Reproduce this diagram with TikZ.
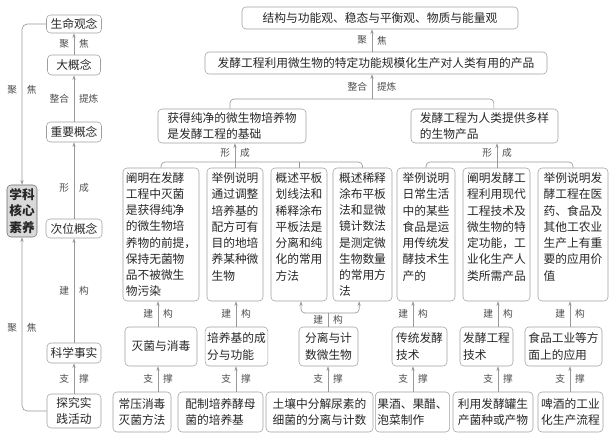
\documentclass[tikz,border=0pt]{standalone}
\usepackage{fontspec}
\setmainfont{Noto Sans CJK SC}
\usetikzlibrary{arrows.meta, calc}
\tikzset{
    font=\fontsize{8.8}{12.2}\selectfont,
    >={Stealth[length=3.5pt, width=2.4pt]},
    % Boxes
    box/.style={draw=gray!75, rounded corners=3pt, inner xsep=1.5pt, inner ysep=2pt,
                align=left, text=black!85},
    core/.style={box, fill=gray!30, draw=gray!85!black, align=center,
                 font=\fontsize{9.5}{12.2}\selectfont\bfseries},
    tall/.style={box, minimum height=99.75pt},
    mid/.style={box, minimum height=29.25pt},
    low/.style={box, minimum height=30pt},
    % Connectors & labels
    flow/.style={->, gray!80, line width=0.5pt},
    link/.style={gray!80, line width=0.5pt},
    lbl/.style={font=\fontsize{7.3}{8}\selectfont, inner xsep=3.5pt, inner ysep=2pt, text=black!70}
}

\begin{document}
\begin{tikzpicture}[x=0.75pt, y=-0.75pt]
\useasboundingbox (0,0) rectangle (610,438);

% left column: levels
\node[box, minimum width=41.25pt, minimum height=13.5pt] (life) at (74,24) {生命观念};
\node[box, minimum width=39.75pt, minimum height=15pt] (big) at (74,65) {大概念};
\node[box, minimum width=41.25pt, minimum height=15pt] (imp) at (74,132) {重要概念};
\node[box, minimum width=42pt, minimum height=14.25pt] (second) at (74,228.5) {次位概念};
\node[box, minimum width=40.5pt, minimum height=15pt] (fact) at (74,353) {科学事实};
\node[box, align=center, minimum width=40.5pt, minimum height=25.5pt] (practice) at (74,411) {探究实\\践活动};
\node[core, minimum width=22.5pt, minimum height=39pt] (core) at (22,211) {学科\\核心\\素养};

% top
\node[box, minimum width=207pt, minimum height=16.5pt] (view) at (380,18) {结构与功能观、稳态与平衡观、物质与能量观};
\node[box, minimum width=256.5pt, minimum height=16.5pt] (ferm) at (376,63) {发酵工程利用微生物的特定功能规模化生产对人类有用的产品};
\node[box, minimum width=111pt, minimum height=25.5pt] (pureA) at (232,126) {获得纯净的微生物培养物\\是发酵工程的基础};
\node[box, minimum width=110.25pt, minimum height=25.5pt] (prodB) at (484.5,126) {发酵工程为人类提供多样\\的生物产品};

% requirements
\node[tall, minimum width=57pt] (m1) at (161,234.5) {阐明在发酵\\工程中灭菌\\是获得纯净\\的微生物培\\养物的前提，\\保持无菌物\\品不被微生\\物污染};
\node[tall, minimum width=42pt] (m2) at (235,234.5) {举例说明\\通过调整\\培养基的\\配方可有\\目的地培\\养某种微\\生物\\~};
\node[tall, minimum width=42pt] (m3) at (299,234.5) {概述平板\\划线法和\\稀释涂布\\平板法是\\分离和纯\\化的常用\\方法\\~};
\node[tall, minimum width=44.25pt] (m4) at (362.5,234.5) {概述稀释\\涂布平板\\法和显微\\镜计数法\\是测定微\\生物数量\\的常用方\\法};
\node[tall, minimum width=43.5pt] (m5) at (426,234.5) {举例说明\\日常生活\\中的某些\\食品是运\\用传统发\\酵技术生\\产的\\~};
\node[tall, minimum width=50.25pt] (m6) at (496.5,234.5) {阐明发酵工\\程利用现代\\工程技术及\\微生物的特\\定功能，工\\业化生产人\\类所需产品\\~};
\node[tall, minimum width=52.5pt] (m7) at (573,234.5) {举例说明发\\酵工程在医\\药、食品及\\其他工农业\\生产上有重\\要的应用价\\值\\~};

% topics
\node[mid, minimum width=54pt] (t1) at (161,346.5) {灭菌与消毒};
\node[mid, minimum width=45.75pt] (t2) at (236.5,346.5) {培养基的成\\分与功能};
\node[mid, minimum width=44.25pt] (t3) at (328.5,346.5) {分离与计\\数微生物};
\node[mid, minimum width=41.25pt] (t4) at (419.5,346.5) {传统发酵\\技术};
\node[mid, minimum width=39.75pt] (t5) at (486.5,346.5) {发酵工程\\技术};
\node[mid, minimum width=57.75pt] (t6) at (563.5,346.5) {食品工业等方\\面上的应用};

% activities
\node[low, minimum width=43.5pt] (b1) at (142,412) {常压消毒\\灭菌方法};
\node[low, minimum width=63.75pt] (b2) at (220.5,412) {配制培养酵母\\菌的培养基};
\node[low, minimum width=80.25pt] (b3) at (319.5,412) {土壤中分解尿素的\\细菌的分离与计数};
\node[low, minimum width=51.75pt] (b4) at (412.5,412) {果酒、果醋、\\泡菜制作};
\node[low, minimum width=60pt] (b5) at (493,412) {利用发酵罐生\\产菌种或产物};
\node[low, minimum width=48.75pt] (b6) at (570.5,412) {啤酒的工业\\化生产流程};

% columns and joints
\coordinate (c1) at (158,0);
\coordinate (c2) at (236,0);
\coordinate (c4) at (413,0);
\coordinate (c5) at (498,0);
\coordinate (c6) at (570,0);
\coordinate (jT) at (372,99);
\coordinate (jA) at (235,162);
\coordinate (jB) at (497,162);
\coordinate (j3) at (328,313);

% left column links
\draw[flow] (big) -- (life) node[midway, lbl, left] (l1a) {聚} node[midway, lbl, right] (l1b) {焦};
\draw[flow] (imp) -- (big) node[midway, lbl, left] (l2a) {整合} node[midway, lbl, right] (l2b) {提炼};
\draw[flow] (second) -- (imp) node[pos=0.4, lbl, left] (l3a) {形} node[pos=0.4, lbl, right] (l3b) {成};
\draw[flow] (fact) -- (second) node[midway, lbl, left] (l4a) {建} node[midway, lbl, right] (l4b) {构};
\draw[flow] (practice) -- (fact) node[midway, lbl, left] (l5a) {支} node[midway, lbl, right] (l5b) {撑};
\draw[flow, rounded corners=4pt] (life.west) -| (core.north);
\node[lbl, left] (l6a) at ($(core.north)+(0,-95)$) {聚};
\node[lbl, right] (l6b) at ($(core.north)+(0,-95)$) {焦};
\draw[flow, rounded corners=4pt] (practice.west) -| (core.south);
\node[lbl, left] (l7a) at ($(core.south)+(0,91)$) {聚};
\node[lbl, right] (l7b) at ($(core.south)+(0,91)$) {焦};

% top links
\draw[flow] (ferm.north -| jT) -- (view.south -| jT) node[midway, lbl, left] (f1a) {聚} node[midway, lbl, right] (f1b) {焦};
\draw[link, rounded corners=3pt] ([xshift=-1.5pt]pureA.north) |- (jT) -| ([xshift=7pt]prodB.north);
\draw[flow] (jT) -- (ferm.south -| jT) node[midway, lbl, left] (f2a) {整合} node[midway, lbl, right] (f2b) {提炼};

% brackets over requirements
\draw[link, rounded corners=3pt] (m1.north) |- (jA) -| (m4.north);
\draw[link] (m3.north) -- (m3.north |- jA);
\draw[link] (m2.north -| jA) -- (jA);
\draw[flow] (jA) -- (pureA.south -| jA) node[midway, lbl, left] (f3a) {形} node[midway, lbl, right] (f3b) {成};
\draw[link, rounded corners=3pt] (m5.north) |- (jB) -| (m7.north);
\draw[link] (m6.north -| jB) -- (jB);
\draw[flow] (jB) -- (prodB.south -| jB) node[midway, lbl, left] (f4a) {形} node[midway, lbl, right] (f4b) {成};

% topics to requirements
\draw[flow] (t1.north -| c1) -- (m1.south -| c1) node[midway, lbl, left] (k1a) {建} node[midway, lbl, right] (k1b) {构};
\draw[flow] (t2.north -| c2) -- (m2.south -| c2) node[midway, lbl, left] (k2a) {建} node[midway, lbl, right] (k2b) {构};
\draw[link] (t3.north -| j3) -- (j3) node[midway, lbl, left] (k3a) {建} node[midway, lbl, right] (k3b) {构};
\draw[flow, rounded corners=3pt] (j3) -| ([xshift=1.5pt]m3.south);
\draw[flow, rounded corners=3pt] (j3) -| ([xshift=-2.5pt]m4.south);
\draw[flow] (t4.north -| c4) -- (m5.south -| c4) node[midway, lbl, left] (k4a) {建} node[midway, lbl, right] (k4b) {构};
\draw[flow] (t5.north -| c5) -- (m6.south -| c5) node[midway, lbl, left] (k5a) {建} node[midway, lbl, right] (k5b) {构};
\draw[flow] (t6.north -| c6) -- (m7.south -| c6) node[midway, lbl, left] (k6a) {建} node[midway, lbl, right] (k6b) {构};

% activities to topics
\draw[flow] (b1.north -| c1) -- (t1.south -| c1) node[midway, lbl, left] (s1a) {支} node[midway, lbl, right] (s1b) {撑};
\draw[flow] (b2.north -| c2) -- (t2.south -| c2) node[midway, lbl, left] (s2a) {支} node[midway, lbl, right] (s2b) {撑};
\draw[flow] (b3.north -| j3) -- (t3.south -| j3) node[midway, lbl, left] (s3a) {支} node[midway, lbl, right] (s3b) {撑};
\draw[flow] (b4.north -| c4) -- (t4.south -| c4) node[midway, lbl, left] (s4a) {支} node[midway, lbl, right] (s4b) {撑};
\draw[flow] (b5.north -| c5) -- (t5.south -| c5) node[midway, lbl, left] (s5a) {支} node[midway, lbl, right] (s5b) {撑};
\draw[flow] (b6.north -| c6) -- (t6.south -| c6) node[midway, lbl, left] (s6a) {支} node[midway, lbl, right] (s6b) {撑};

\end{tikzpicture}
\end{document}
